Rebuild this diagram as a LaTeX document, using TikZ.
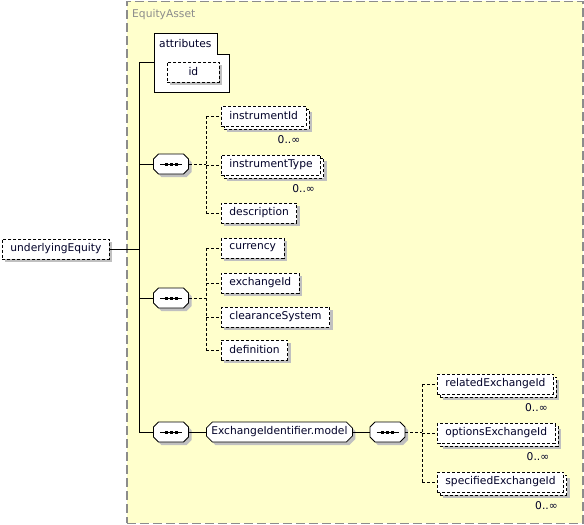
\documentclass[tikz,border=0pt]{standalone}
\usepackage{fontspec}
\newfontfamily\xsdfont{DejaVu Sans}
\usetikzlibrary{shapes,shadows,positioning}
\definecolor{assetyellow}{RGB}{255,255,204}
\definecolor{assetborder}{RGB}{140,140,140}
\definecolor{shadowgray}{RGB}{192,192,192}
\definecolor{textnavy}{RGB}{0,0,40}

\begin{document}
\begin{tikzpicture}[x=1pt, y=-1pt, font=\xsdfont\fontsize{10.7}{12}\selectfont, text=textnavy]
\tikzstyle{elembase} = [draw=black, line width=0.8pt, dash pattern=on 3pt off 2pt, fill=white,
   minimum height=20pt, inner xsep=8pt, inner ysep=1pt, anchor=west]
\tikzstyle{elem} = [elembase, drop shadow={shadow xshift=3pt, shadow yshift=-3pt, fill=shadowgray, opacity=1}]
\tikzstyle{multielem} = [elembase,
   drop shadow={shadow xshift=6pt, shadow yshift=-6pt, fill=shadowgray, opacity=1},
   copy shadow={shadow xshift=3pt, shadow yshift=-3pt, draw=black, fill=white, dash pattern=on 3pt off 2pt}]
\tikzstyle{chamfershadow} = [preaction={fill=shadowgray, draw=none, transform canvas={xshift=3pt, yshift=-3pt}}]
\tikzstyle{seqbox} = [chamfered rectangle, chamfered rectangle xsep=5pt, chamfered rectangle ysep=5pt,
   draw=black, line width=0.8pt, fill=white, minimum height=20pt, inner xsep=5pt, inner ysep=0pt,
   chamfershadow,
   path picture={
     \draw[black, line width=0.8pt] ([xshift=-11pt]path picture bounding box.center) -- ([xshift=11pt]path picture bounding box.center);
     \foreach \d in {-5,0,5}
       \fill[black] ([xshift=\d pt]path picture bounding box.center) +(-1.5pt,-1.5pt) rectangle +(1.5pt,1.5pt);
   }]
\tikzstyle{groupbox} = [chamfered rectangle, chamfered rectangle xsep=3pt, chamfered rectangle ysep=3pt,
   draw=black, line width=0.8pt, fill=white, minimum width=146pt, minimum height=20pt, inner sep=1pt, anchor=west,
   chamfershadow]
\tikzstyle{occurs} = [anchor=north east, inner sep=1pt]
\tikzstyle{link} = [line width=0.8pt]
\tikzstyle{optlink} = [line width=0.8pt, dash pattern=on 3pt off 2pt]

\useasboundingbox (0,0) rectangle (584,525);

% complex type frame
\node[draw=assetborder, line width=1.5pt, dash pattern=on 9pt off 4pt, fill=assetyellow,
   minimum width=456pt, minimum height=522pt, anchor=north west, inner sep=0pt] at (126,0.5) (equityAsset) {};
\node[anchor=base west, text=assetborder, inner sep=0pt] at (132,17.5) (equityAssetLabel) {EquityAsset};

\node[elem, minimum width=106pt] at (2,249) (underlyingEquity) {underlyingEquity};

% attributes
\draw[line width=0.8pt, fill=white] (154,33) -- (217,33) -- (217,54) -- (229,54) -- (229,92) -- (154,92) -- cycle;
\node[anchor=base west, inner sep=0pt] at (159,47) (attributes) {attributes};
\node[elem, minimum width=52pt] at (167,72) (id) {id};
\coordinate (attrport) at (154,62);

% sequences
\node[seqbox] at (171,164) (seq1) {\hspace*{25pt}};
\node[seqbox] at (171,298) (seq2) {\hspace*{25pt}};
\node[seqbox] at (171,432) (seq3) {\hspace*{25pt}};
\node[groupbox] at (206,432) (exchangeModel) {ExchangeIdentifier.model};
\node[seqbox] at (387.5,432) (seq4) {\hspace*{25pt}};

\node[multielem] at (221,116) (instrumentId) {instrumentId};
\node[multielem] at (221,165) (instrumentType) {instrumentType};
\node[elem] at (221,213) (description) {description};

\node[elem] at (221,248) (currency) {currency};
\node[elem] at (221,283) (exchangeId) {exchangeId};
\node[elem] at (221,317) (clearanceSystem) {clearanceSystem};
\node[elem] at (221,350) (definition) {definition};

\node[multielem] at (437,384) (relatedExchangeId) {relatedExchangeId};
\node[multielem] at (437,433) (optionsExchangeId) {optionsExchangeId};
\node[multielem] at (437,482) (specifiedExchangeId) {specifiedExchangeId};

\foreach \e in {instrumentId,instrumentType,relatedExchangeId,optionsExchangeId,specifiedExchangeId}
  \node[occurs] at ([xshift=-5pt,yshift=-8pt]\e.south east) (\e Occurs) {0..∞};

% connectors
\coordinate (trunkTop) at (139,62);
\coordinate (trunkBottom) at (139,432);
\coordinate (spineA) at (206,0);
\coordinate (spineB) at (422,0);

\draw[link] (trunkTop) -- (trunkBottom);
\draw[link] (underlyingEquity.east) -- (underlyingEquity.east -| trunkTop);
\draw[link] (trunkTop) -- (attrport);
\foreach \s in {seq1,seq2,seq3}
  \draw[link] (\s.west -| trunkTop) -- (\s.west);
\draw[link] (seq3.east) -- (exchangeModel.west);
\draw[link] (exchangeModel.east) -- (seq4.west);

\draw[optlink] (seq1.east) -- (seq1.east -| spineA);
\draw[optlink] (instrumentId.west -| spineA) -- (description.west -| spineA);
\foreach \c in {instrumentId,instrumentType,description}
  \draw[optlink] (\c.west -| spineA) -- (\c.west);

\draw[optlink] (seq2.east) -- (seq2.east -| spineA);
\draw[optlink] (currency.west -| spineA) -- (definition.west -| spineA);
\foreach \c in {currency,exchangeId,clearanceSystem,definition}
  \draw[optlink] (\c.west -| spineA) -- (\c.west);

\draw[optlink] (seq4.east) -- (seq4.east -| spineB);
\draw[optlink] (relatedExchangeId.west -| spineB) -- (specifiedExchangeId.west -| spineB);
\foreach \c in {relatedExchangeId,optionsExchangeId,specifiedExchangeId}
  \draw[optlink] (\c.west -| spineB) -- (\c.west);
\end{tikzpicture}
\end{document}
